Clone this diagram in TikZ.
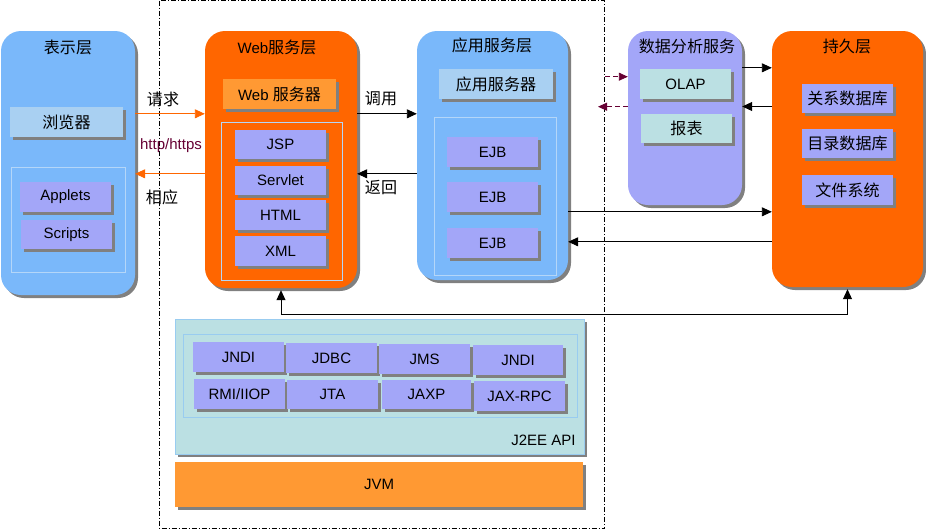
\documentclass[tikz,border=0pt]{standalone}
\usepackage{fontspec}
\setmainfont{Liberation Sans}
\newfontfamily\cjk[Scale=1.07]{Noto Sans CJK SC}
\usetikzlibrary{arrows.meta,shadows}
\definecolor{bigblue}{HTML}{7AB8FA}
\definecolor{bigorange}{HTML}{FF6600}
\definecolor{lightorange}{HTML}{FF9933}
\definecolor{paleblue}{HTML}{A9D0F2}
\definecolor{purp}{HTML}{A3A6F8}
\definecolor{cyanish}{HTML}{BBE0E3}
\definecolor{framecol}{HTML}{B4D6F8}
\definecolor{apiborder}{HTML}{99CCF0}
\definecolor{darkred}{HTML}{660033}
\definecolor{shadowgray}{HTML}{808080}
\begin{document}
\begin{tikzpicture}[x=1pt,y=-1pt,font=\fontsize{15pt}{18pt}\selectfont,
  shd/.style={drop shadow={shadow xshift=3pt,shadow yshift=-3pt,fill=shadowgray,opacity=1}},
  layer/.style={shd,rounded corners=20pt,draw=none,inner sep=0pt},
  item/.style={shd,draw=none,inner sep=0pt},
  frm/.style={draw=framecol,line width=0.8pt,inner sep=0pt},
  arr/.style={-{Triangle[length=10pt,width=9pt]},line width=0.9pt},
  darr/.style={-{Triangle[length=9pt,width=8pt]},line width=0.9pt,darkred,dash pattern=on 5pt off 3pt}
]
\useasboundingbox (0,0) rectangle (926,531);
% dash-dot frame
\draw[line width=0.8pt,dash pattern=on 5pt off 2pt on 1pt off 2pt] (159.5,0.5) rectangle (604.5,528.5);
\coordinate (fr1) at (605,76.7);
\coordinate (fr2) at (598,106.7);

% presentation layer
\node[layer,fill=bigblue,minimum width=134pt,minimum height=264pt] (pres) at (68,163) {};
\node (prest) at (68,47) {\cjk 表示层};
\node[item,fill=paleblue,minimum width=113pt,minimum height=30pt] (browser) at (66.5,122) {\cjk 浏览器};
\node[frm,minimum width=114pt,minimum height=105pt] (presfrm) at (68,219.5) {};
\node[item,fill=purp,minimum width=91pt,minimum height=30pt] (applets) at (65.5,197) {Applets};
\node[item,fill=purp,minimum width=91pt,minimum height=29pt] (scripts) at (66.5,234.5) {Scripts};

% web layer
\node[layer,fill=bigorange,minimum width=152pt,minimum height=257pt] (web) at (281,159.5) {};
\node (webt) at (277,47) {Web{\cjk 服务层}};
\node[item,fill=lightorange,minimum width=113pt,minimum height=30pt] (websrv) at (279.5,94) {Web {\cjk 服务器}};
\node[frm,minimum width=121pt,minimum height=158pt] (webfrm) at (281.5,201) {};
\node[item,fill=purp,minimum width=91pt,minimum height=29pt] (jsp) at (280.5,144.5) {JSP};
\node[item,fill=purp,minimum width=91pt,minimum height=29pt] (servlet) at (280.5,180.5) {Servlet};
\node[item,fill=purp,minimum width=91pt,minimum height=30pt] (html) at (280.5,215) {HTML};
\node[item,fill=purp,minimum width=91pt,minimum height=30pt] (xml) at (280.5,251) {XML};

% application layer
\node[layer,fill=bigblue,minimum width=151pt,minimum height=249pt] (app) at (492.5,155.5) {};
\node (appt) at (492,45) {\cjk 应用服务层};
\node[item,fill=paleblue,minimum width=114pt,minimum height=30pt] (appsrv) at (496,84) {\cjk 应用服务器};
\node[frm,minimum width=122pt,minimum height=158pt] (appfrm) at (495,196) {};
\node[item,fill=purp,minimum width=91pt,minimum height=30pt] (ejb1) at (492.5,152) {EJB};
\node[item,fill=purp,minimum width=91pt,minimum height=30pt] (ejb2) at (492.5,197) {EJB};
\node[item,fill=purp,minimum width=91pt,minimum height=30pt] (ejb3) at (492.5,243) {EJB};

% analytics
\node[layer,fill=purp,minimum width=114pt,minimum height=174pt] (ana) at (685,118) {};
\node (anat) at (687,46) {\cjk 数据分析服务};
\node[item,fill=cyanish,minimum width=91pt,minimum height=30pt] (olap) at (685.5,84) {OLAP};
\node[item,fill=cyanish,minimum width=91pt,minimum height=29pt] (report) at (686.5,128.5) {\cjk 报表};

% persistence
\node[layer,fill=bigorange,minimum width=151pt,minimum height=256pt] (per) at (847.5,159) {};
\node (pert) at (847,46) {\cjk 持久层};
\node[item,fill=purp,minimum width=91pt,minimum height=29pt] (rdb) at (847.5,98.5) {\cjk 关系数据库};
\node[item,fill=purp,minimum width=91pt,minimum height=29pt] (ddb) at (847.5,143.5) {\cjk 目录数据库};
\node[item,fill=purp,minimum width=91pt,minimum height=30pt] (fs) at (847.5,190) {\cjk 文件系统};

% J2EE API
\node[shd,fill=cyanish,draw=apiborder,line width=0.8pt,inner sep=0pt,minimum width=409pt,minimum height=135pt] (api) at (379.5,386.5) {};
\node[draw=apiborder,line width=0.8pt,inner sep=0pt,minimum width=394pt,minimum height=83pt] (apifrm) at (380,375.5) {};
\node[item,fill=purp,minimum width=91pt,minimum height=30pt] (jndi1) at (238.5,357) {JNDI};
\node[item,fill=purp,minimum width=91pt,minimum height=30pt] (jdbc) at (331.5,358) {JDBC};
\node[item,fill=purp,minimum width=91pt,minimum height=30pt] (jms) at (424.5,359) {JMS};
\node[item,fill=purp,minimum width=90pt,minimum height=30pt] (jndi2) at (518,360) {JNDI};
\node[item,fill=purp,minimum width=91pt,minimum height=30pt] (rmi) at (239.5,394) {RMI/IIOP};
\node[item,fill=purp,minimum width=91pt,minimum height=29pt] (jta) at (332.5,394.5) {JTA};
\node[item,fill=purp,minimum width=89pt,minimum height=29pt] (jaxp) at (426.5,394.5) {JAXP};
\node[item,fill=purp,minimum width=91pt,minimum height=30pt] (jaxrpc) at (519.5,396) {JAX-RPC};
\node[anchor=east] (apit) at (579,440) {J2EE API};

% JVM
\node[item,fill=lightorange,minimum width=408pt,minimum height=45pt] (jvm) at (379,484.5) {JVM};

% connectors
\draw[arr,draw=bigorange,fill=bigorange] ([yshift=-83pt]pres.north east) -- ([yshift=-83pt]web.north west);
\draw[arr,draw=bigorange,fill=bigorange] ([yshift=-143pt]web.north west) -- ([yshift=-143pt]pres.north east);
\node (lreq) at (163,99) {\cjk 请求};
\node[text=darkred] (lhttp) at (171,146) {http/https};
\node (lresp) at (162,197) {\cjk 相应};

\draw[arr] ([yshift=-83pt]web.north east) -- ([yshift=-83pt]app.north west);
\draw[arr] ([yshift=-143pt]app.north west) -- ([yshift=-143pt]web.north east);
\node (lcall) at (381,99) {\cjk 调用};
\node (lret) at (381,188) {\cjk 返回};

\draw[arr] ([yshift=-181pt]app.north east) -- ([yshift=-181pt]per.north west);
\draw[arr] ([yshift=-211pt]per.north west) -- ([yshift=-211pt]app.north east);

\draw[arr] ([yshift=-37pt]ana.north east) -- ([yshift=-37pt]per.north west);
\draw[arr] ([yshift=-75.7pt]per.north west) -- ([yshift=-75.7pt]ana.north east);

\draw[darr] (fr1) -- (ana.west |- fr1);
\draw[darr] (ana.west |- fr2) -- (fr2);

\draw[{Triangle[length=10pt,width=9pt]}-{Triangle[length=10pt,width=9pt]},line width=0.9pt]
  ([yshift=-2pt]web.south) -- ++(0,24) -| ([yshift=-2pt]per.south);
\end{tikzpicture}
\end{document}
